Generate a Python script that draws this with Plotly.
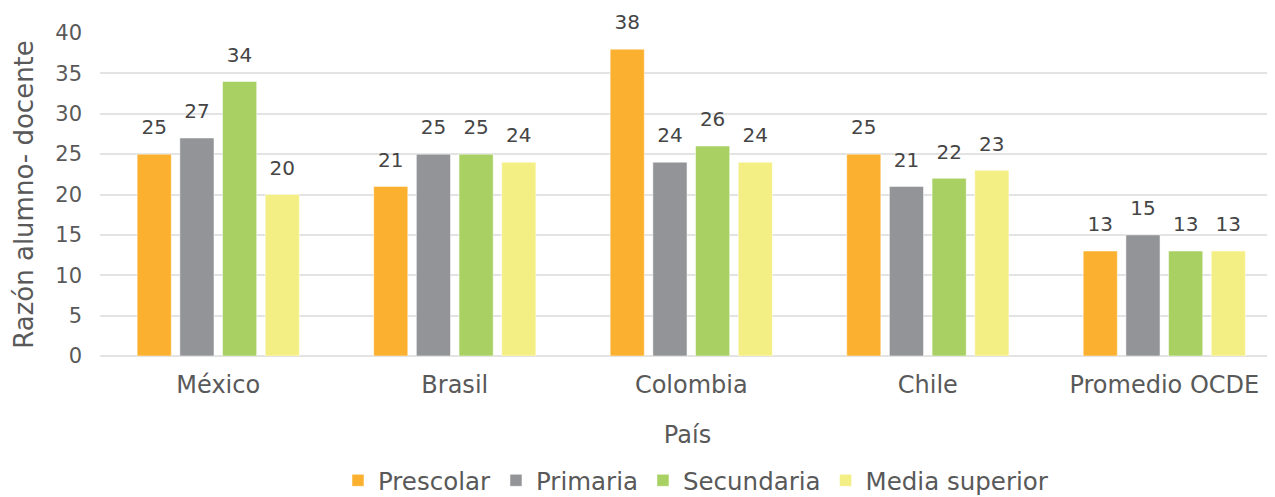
import plotly.graph_objects as go

paises = ["México", "Brasil", "Colombia", "Chile", "Promedio OCDE"]
series_names = ["Prescolar", "Primaria", "Secundaria", "Media superior"]
prescolar = [25, 21, 38, 25, 13]
primaria = [27, 25, 24, 21, 15]
secundaria = [34, 25, 26, 22, 13]
media_superior = [20, 24, 24, 23, 13]
colors = ["#FBB12F", "#929497", "#A8D063", "#F4EF84"]
y_ticks = [0, 5, 10, 15, 20, 25, 30, 35, 40]

FONT = "'DejaVu Sans', sans-serif"
TXT = "#595959"

fig = go.Figure()
all_vals = [prescolar, primaria, secundaria, media_superior]
for i, (name, vals, col) in enumerate(zip(series_names, all_vals, colors)):
    fig.add_trace(go.Bar(
        name=name, x=paises, y=vals,
        marker=dict(color=col, line=dict(color="rgba(255,255,255,0.5)", width=1)),
        offsetgroup=str(i), alignmentgroup="a",
    ))
for i, (name, vals) in enumerate(zip(series_names, all_vals)):
    fig.add_trace(go.Scatter(
        x=paises, y=vals, mode="markers+text",
        text=[str(v) for v in vals], textposition="top center",
        textfont=dict(family=FONT, size=20, color="#454545"),
        marker=dict(size=22, opacity=0, color="white"),
        offsetgroup=str(i), alignmentgroup="a",
        showlegend=False, hoverinfo="skip", cliponaxis=False,
    ))

fig.update_layout(
    width=1267, height=489,
    margin=dict(l=92, r=0, t=25, b=141, autoexpand=False),
    paper_bgcolor="white", plot_bgcolor="white",
    barmode="group", bargap=0.278, bargroupgap=0.2,
    scattermode="group", scattergap=0.278,
    font=dict(family=FONT, color=TXT),
    showlegend=True,
    legend=dict(orientation="h", x=0.543, xanchor="center", xref="container",
                y=0.034, yanchor="middle", yref="container",
                font=dict(family=FONT, size=24.5, color=TXT), traceorder="normal",
                itemwidth=30),
    xaxis=dict(
        range=[-0.5, 4.468], automargin=False,
        tickfont=dict(family=FONT, size=24, color=TXT),
        title=dict(text="País", font=dict(family=FONT, size=24, color=TXT), standoff=28),
        showgrid=False, showline=False, ticks="", ticklabelstandoff=12,
    ),
    yaxis=dict(
        range=[0, 40], tickvals=y_ticks, automargin=False,
        tickfont=dict(family=FONT, size=21, color=TXT),
        title=dict(text="Razón alumno- docente", font=dict(family=FONT, size=26, color=TXT), standoff=14),
        showgrid=True, gridcolor="#E3E3E3", gridwidth=2,
        zeroline=True, zerolinecolor="#E3E3E3", zerolinewidth=2,
        showline=False, ticks="", ticklabelstandoff=17,
    ),
)

fig.write_html("out.html")
